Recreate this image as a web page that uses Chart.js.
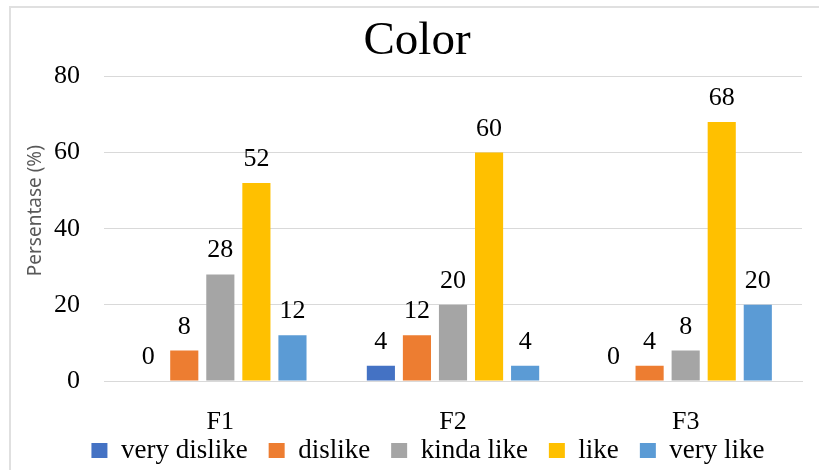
<!DOCTYPE html>
<html>
<head>
<meta charset="utf-8">
<script src="https://cdn.jsdelivr.net/npm/chart.js@4"></script>
<style>
  body { margin: 0; background: #fff; }
  #wrap { position: relative; width: 819px; height: 470px; overflow: hidden; }
  #frame { position: absolute; left: 9px; top: 6px; width: 900px; height: 600px; border: 2px solid #e0e0e0; pointer-events: none; }
</style>
</head>
<body>
<div id="wrap">
  <canvas id="barChart" width="819" height="470"></canvas>
  <div id="frame"></div>
</div>
<script>
const categories = ["F1", "F2", "F3"];
const seriesNames = ["very dislike", "dislike", "kinda like", "like", "very like"];
const veryDislike = [0, 4, 0];
const dislike = [8, 12, 4];
const kindaLike = [28, 20, 8];
const like = [52, 60, 68];
const veryLike = [12, 4, 20];
const yTicks = [0, 20, 40, 60, 80];

const colors = ["#4472C4", "#ED7D31", "#A5A5A5", "#FFC000", "#5B9BD5"];
const serif = "'Liberation Serif', 'DejaVu Serif', serif";

// draws the value above each bar
const valueLabels = {
  id: "valueLabels",
  afterDatasetsDraw(chart) {
    const ctx = chart.ctx;
    ctx.save();
    ctx.font = "26px " + serif;
    ctx.fillStyle = "#000";
    ctx.textAlign = "center";
    ctx.textBaseline = "alphabetic";
    chart.data.datasets.forEach((ds, i) => {
      chart.getDatasetMeta(i).data.forEach((bar, j) => {
        ctx.fillText(ds.data[j], bar.x, bar.y - 17);
      });
    });
    ctx.restore();
  },
};

// x labels sit lower than the squeezed axis box, so let them spill out;
// nudge legend, title and y title a bit like the original
const Y_TITLE_SHIFT = 18;
const layoutTweak = {
  id: "layoutTweak",
  afterLayout(chart) {
    chart.scales.x.bottom = chart.height;
    chart.scales.y.top -= Y_TITLE_SHIFT;
    chart.scales.y.bottom -= Y_TITLE_SHIFT;
    chart.legend.left += 15;
    chart.legend.right += 15;
    chart.titleBlock.left += 4;
    chart.titleBlock.right += 4;
  },
  beforeDatasetsDraw(chart) {
    // put the y box back so the bars are not clipped
    chart.scales.y.top += Y_TITLE_SHIFT;
    chart.scales.y.bottom += Y_TITLE_SHIFT;
  },
};

const allSeries = [veryDislike, dislike, kindaLike, like, veryLike];

const barCtx = document.getElementById("barChart").getContext("2d");
const barChart = new Chart(barCtx, {
  type: "bar",
  data: {
    labels: categories,
    datasets: allSeries.map((vals, i) => ({
      label: seriesNames[i],
      data: vals,
      backgroundColor: colors[i],
      categoryPercentage: 0.775,
      barPercentage: 0.78,
    })),
  },
  options: {
    responsive: false,
    animation: false,
    layout: { padding: { left: 24, right: 17, top: 0, bottom: 0 } },
    plugins: {
      title: {
        display: true,
        text: "Color",
        color: "#000",
        font: { family: serif, size: 47, weight: "normal" },
        padding: { top: 13, bottom: 7 },
      },
      legend: {
        position: "bottom",
        maxHeight: 54,
        labels: {
          color: "#000",
          font: { family: serif, size: 27 },
          boxWidth: 16,
          boxHeight: 15,
          padding: 21,
        },
      },
      tooltip: { enabled: false },
    },
    scales: {
      x: {
        grid: { display: false, drawTicks: false },
        border: { color: "#d9d9d9" },
        ticks: { color: "#000", font: { family: serif, size: 26 }, padding: 26 },
        afterFit(scale) {
          scale.height = 35;
        },
      },
      y: {
        min: 0,
        max: 80,
        afterBuildTicks(axis) {
          axis.ticks = yTicks.map((v) => ({ value: v }));
        },
        grid: { color: "#d9d9d9", drawTicks: false },
        border: { display: false },
        ticks: { color: "#000", font: { family: serif, size: 26 }, padding: 24 },
        title: {
          display: true,
          text: "Persentase (%)",
          color: "#595959",
          font: { family: "'Noto Sans', sans-serif", size: 19 },
          padding: 0,
        },
        afterFit(scale) {
          scale.width = 80;
        },
      },
    },
  },
  plugins: [valueLabels, layoutTweak],
});
</script>
</body>
</html>
